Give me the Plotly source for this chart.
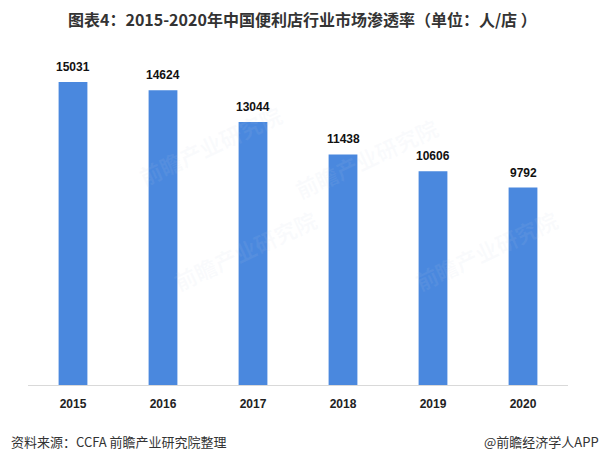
import plotly.graph_objects as go

years = ["2015", "2016", "2017", "2018", "2019", "2020"]
values = [15031, 14624, 13044, 11438, 10606, 9792]
title_text = "图表4：2015-2020年中国便利店行业市场渗透率（单位：人/店 ）"
source_text = "资料来源：CCFA 前瞻产业研究院整理"
brand_text = "@前瞻经济学人APP"

W, H = 605, 461
left, right = 27.5, 568
top, bottom = 60, 385

fig = go.Figure()
fig.add_trace(go.Bar(
    x=years, y=values,
    marker=dict(color="#4a88de", line=dict(width=0)),
    width=0.32,
))

for i, v in enumerate(values):
    fig.add_annotation(x=i, y=v, text="<b>%d</b>" % v, showarrow=False,
                       yanchor="bottom", yshift=6,
                       font=dict(family="Liberation Sans, Arial", size=12, color="#111111"))

fig.update_layout(
    width=W, height=H,
    margin=dict(l=left, r=W - right, t=top, b=H - bottom, pad=0),
    paper_bgcolor="white", plot_bgcolor="white",
    showlegend=False,
    xaxis=dict(
        type="category",
        range=[-0.5, len(years) - 0.5],
        showgrid=False, zeroline=False, showline=True,
        linecolor="#d9d9d9", linewidth=1,
        ticks="", tickfont=dict(family="Liberation Sans, Arial", size=12, color="#222222"),
        tickprefix="<b>", ticksuffix="</b>",
        ticklabelstandoff=8,
    ),
    yaxis=dict(range=[0, 16121], showgrid=False, zeroline=False,
               showline=False, showticklabels=False, ticks=""),
    font=dict(family="Noto Sans CJK SC, Liberation Sans"),
)

# title
fig.add_annotation(text="<b>" + title_text + "</b>", xref="paper", yref="paper",
                   x=(302 - left) / (right - left), y=1, xanchor="center", yanchor="middle",
                   yshift=(top - 19), showarrow=False,
                   font=dict(family="Noto Sans CJK SC", size=16, color="#333333"))

# watermarks (very faint)
for (px, py) in [(130, 95), (445, 108), (165, 300), (565, 250)]:
    fig.add_annotation(text="<b>前瞻产业研究院</b>", xref="paper", yref="paper",
                       x=(px - left) / (right - left), y=(bottom - py) / (bottom - top),
                       showarrow=False, textangle=-25,
                       font=dict(family="Noto Sans CJK SC", size=22, color="rgba(200,210,225,0.09)"))

# footer
fig.add_annotation(text=source_text, xref="paper", yref="paper",
                   x=(8 - left) / (right - left), y=(bottom - 441) / (bottom - top),
                   xanchor="left", yanchor="middle", showarrow=False,
                   font=dict(family="Noto Sans CJK SC", size=13, color="#333333"))
fig.add_annotation(text=brand_text, xref="paper", yref="paper",
                   x=(601 - left) / (right - left), y=(bottom - 441) / (bottom - top),
                   xanchor="right", yanchor="middle", showarrow=False,
                   font=dict(family="Noto Sans CJK SC", size=13, color="#333333"))

fig.write_html("out.html")
